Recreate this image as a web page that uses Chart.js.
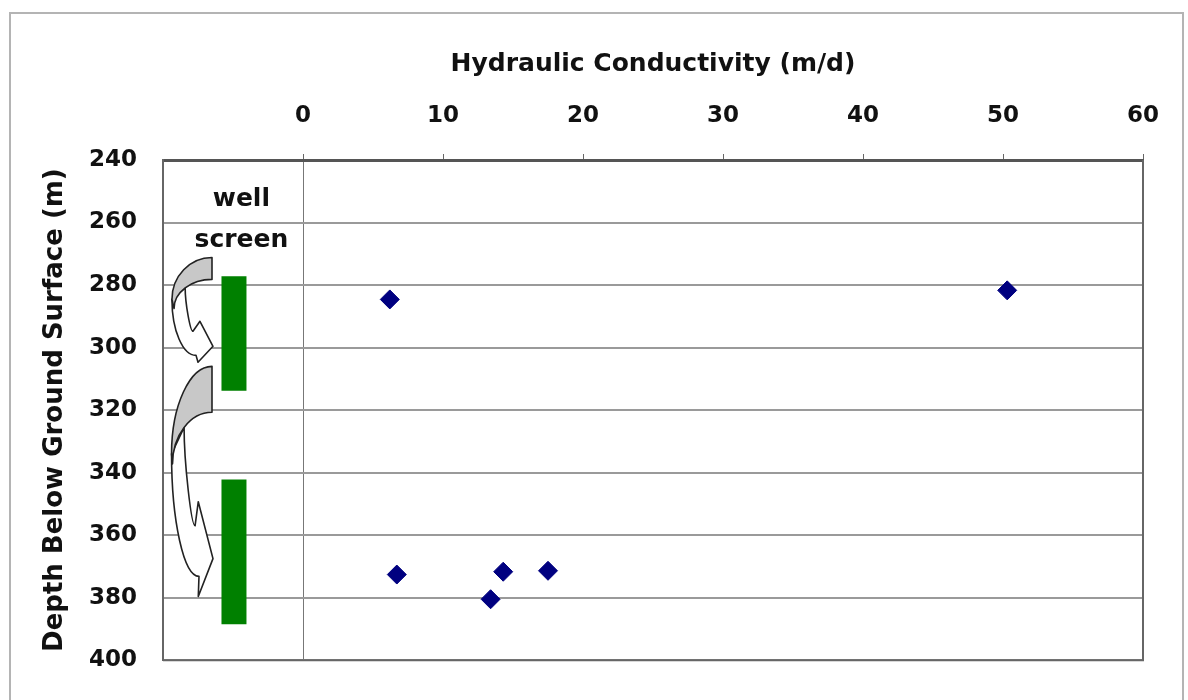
<!DOCTYPE html>
<html>
<head>
<meta charset="utf-8">
<script src="https://cdn.jsdelivr.net/npm/chart.js@4.4.1/dist/chart.umd.min.js"></script>
<style>
  html, body { margin: 0; padding: 0; background: #fff; }
  canvas { display: block; }
</style>
</head>
<body>
<canvas id="grafica"></canvas>
<script>
// values
const conductivity = [6.2, 50.3, 6.7, 14.3, 17.5, 13.4];   // m/d
const depth = [284.6, 281.7, 372.6, 371.7, 371.4, 380.5];  // m
const screenX = -4.93;
const screenTop = [277.2, 342.2];
const screenBottom = [313.8, 388.5];
const xRange = [-10, 60];
const depthRange = [240, 400];
const labelLines = ["well", "screen"];
const labelDepth = [254.6, 267.7];
const labelX = -4.4;

// curved arrows (annotation), in data units: [x, depth]
const arrows = [
  { tailX: -6.5, tailTop: 271.2, tailBottom: 278.2, left: [-9.36, 284.6], pinch: [-9.21, 287.5],
    neckUp: [-7.86, 294.8], wingUp: [-7.36, 291.6], tip: [-6.43, 299.6], wingDown: [-7.5, 304.7], neckDown: [-7.64, 302.5] },
  { tailX: -6.5, tailTop: 306.0, tailBottom: 320.7, left: [-9.39, 334.0], pinch: [-9.32, 337.2],
    neckUp: [-7.71, 357.0], wingUp: [-7.48, 349.3], tip: [-6.43, 367.5], wingDown: [-7.48, 379.6], neckDown: [-7.43, 373.2] }
];

document.addEventListener("DOMContentLoaded", () => {
  const canvas = document.getElementById("grafica");
  canvas.width = 1188;
  canvas.height = 700;
  const ctx = canvas.getContext("2d");
  const FONT = "'DejaVu Sans', sans-serif";

  const screenSets = screenTop.map((t, i) => ({
    type: "line",
    data: [{ x: screenX, y: t }, { x: screenX, y: screenBottom[i] }],
    borderColor: "#008000",
    borderWidth: 25,
    borderCapStyle: "butt",
    pointRadius: 0,
    showLine: true
  }));

  // frame + extra borders
  const marcos = {
    id: "marcos",
    beforeDraw(chart) {
      const c = chart.ctx;
      c.save();
      c.fillStyle = "#fff";
      c.fillRect(0, 0, chart.width, chart.height);
      c.strokeStyle = "#b4b4b4";
      c.lineWidth = 2;
      c.strokeRect(10, 13, 1173, 720);
      c.restore();
    },
    afterDraw(chart) {
      const { left, right, top, bottom } = chart.chartArea;
      const c = chart.ctx;
      c.save();
      c.strokeStyle = "#666";
      c.lineWidth = 2;
      c.beginPath();
      c.moveTo(right, top);
      c.lineTo(right, bottom);
      c.lineTo(left, bottom);
      c.stroke();
      c.restore();
    }
  };

  // point on a cubic bezier
  function bez(p0, c1, c2, p1, t) {
    const u = 1 - t;
    return [0, 1].map(i => u * u * u * p0[i] + 3 * u * u * t * c1[i] + 3 * u * t * t * c2[i] + t * t * t * p1[i]);
  }

  // arrows and the "well screen" label
  const flechas = {
    id: "flechas",
    afterDatasetsDraw(chart) {
      const sx = chart.scales.x, sy = chart.scales.y;
      const P = (x, d) => [sx.getPixelForValue(x), sy.getPixelForValue(d)];
      const k = 0.552, ki = 0.35;
      const c = chart.ctx;
      c.save();
      c.lineWidth = 1.6;
      c.strokeStyle = "#222";
      c.lineJoin = "round";

      arrows.forEach(a => {
        const t0 = P(a.tailX, a.tailTop), t1 = P(a.tailX, a.tailBottom);
        const L = P(...a.left), pi = P(...a.pinch);
        const nu = P(...a.neckUp), wu = P(...a.wingUp), tp = P(...a.tip);
        const wd = P(...a.wingDown), nd = P(...a.neckDown);

        // grey fold: inner curve from pinch up to the tail bottom
        const g1 = [pi[0], pi[1] - k * (pi[1] - t1[1])];
        const g2 = [t1[0] - k * (t1[0] - pi[0]), t1[1]];
        const J = bez(pi, g1, g2, t1, 0.5);

        // white front of the ribbon
        c.beginPath();
        c.moveTo(J[0], J[1]);
        c.lineTo(L[0], L[1]);
        c.bezierCurveTo(L[0], L[1] + k * (nd[1] - L[1]), nd[0] - k * (nd[0] - L[0]), nd[1], nd[0], nd[1]);
        c.lineTo(wd[0], wd[1]);
        c.lineTo(tp[0], tp[1]);
        c.lineTo(wu[0], wu[1]);
        c.lineTo(nu[0], nu[1]);
        c.bezierCurveTo(nu[0] - ki * (nu[0] - J[0]), nu[1], J[0], J[1] + ki * (nu[1] - J[1]), J[0], J[1]);
        c.closePath();
        c.fillStyle = "#fff";
        c.fill();
        c.stroke();

        // grey back of the ribbon
        c.beginPath();
        c.moveTo(t0[0], t0[1]);
        c.bezierCurveTo(t0[0] - k * (t0[0] - L[0]), t0[1], L[0], L[1] - k * (L[1] - t0[1]), L[0], L[1]);
        c.lineTo(pi[0], pi[1]);
        c.bezierCurveTo(g1[0], g1[1], g2[0], g2[1], t1[0], t1[1]);
        c.closePath();
        c.fillStyle = "#c8c8c8";
        c.fill();
        c.stroke();
      });

      c.fillStyle = "#111";
      c.font = "bold 25px " + FONT;
      c.textAlign = "center";
      c.textBaseline = "alphabetic";
      labelLines.forEach((txt, i) => {
        const p = P(labelX, labelDepth[i]);
        c.fillText(txt, p[0], p[1]);
      });
      c.restore();
    }
  };

  new Chart(ctx, {
    type: "scatter",
    data: {
      datasets: [
        ...screenSets,
        {
          data: conductivity.map((v, i) => ({ x: v, y: depth[i] })),
          pointStyle: "rectRot",
          pointRadius: 9.5,
          backgroundColor: "#000080",
          borderColor: "#000080",
          borderWidth: 1
        }
      ]
    },
    options: {
      responsive: false,
      animation: false,
      devicePixelRatio: 1,
      layout: { padding: { left: 0, top: 0, right: 45, bottom: 38 } },
      plugins: { legend: { display: false }, tooltip: { enabled: false } },
      scales: {
        x: {
          type: "linear",
          position: "top",
          min: xRange[0],
          max: xRange[1],
          afterFit: s => { s.height = 160; },
          ticks: {
            stepSize: 10,
            color: "#111",
            padding: 24,
            font: { family: FONT, size: 23, weight: "bold" },
            callback: v => (v < 0 ? "" : v)
          },
          grid: {
            color: c => (c.tick && c.tick.value === 0 ? "#777" : "rgba(0,0,0,0)"),
            lineWidth: 1,
            tickLength: 6,
            tickColor: c => (c.tick && c.tick.value >= 0 ? "#666" : "rgba(0,0,0,0)")
          },
          border: { display: true, color: "#555", width: 3 },
          title: {
            display: true,
            text: "Hydraulic Conductivity (m/d)",
            color: "#111",
            font: { family: FONT, size: 25, weight: "bold" },
            padding: { top: 49, bottom: 0 }
          }
        },
        y: {
          type: "linear",
          reverse: true,
          min: depthRange[0],
          max: depthRange[1],
          afterFit: s => { s.width = 163; },
          ticks: {
            stepSize: 20,
            color: "#111",
            padding: 26,
            font: { family: FONT, size: 23, weight: "bold" }
          },
          grid: { color: "#9a9a9a", lineWidth: 2, drawTicks: false },
          border: { display: true, color: "#666", width: 2 },
          title: {
            display: true,
            text: "Depth Below Ground Surface (m)",
            color: "#111",
            font: { family: FONT, size: 26, weight: "bold" },
            padding: { top: 40, bottom: 0 }
          }
        }
      }
    },
    plugins: [marcos, flechas]
  });
});
</script>
</body>
</html>
